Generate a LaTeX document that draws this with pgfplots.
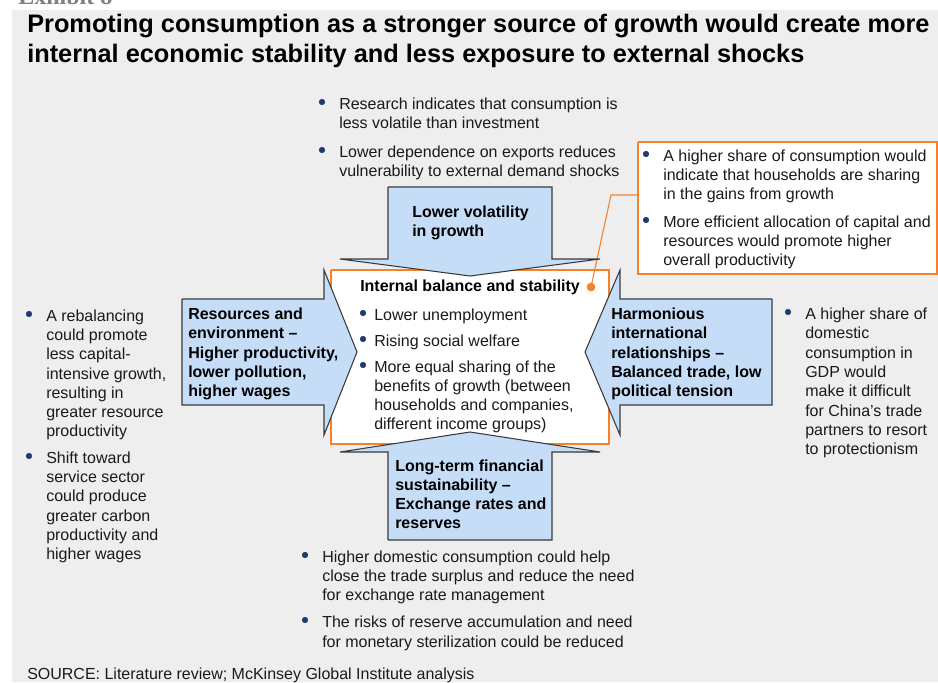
\documentclass[border=0pt]{standalone}
\usepackage{fontspec}
\setmainfont{Liberation Sans}
\newfontfamily\serifx{Liberation Serif}
\usepackage{pgfplots}
\pgfplotsset{compat=1.18}

\definecolor{bg}{HTML}{EEEEEE}
\definecolor{arrowblue}{HTML}{C6DDF7}
\definecolor{arrowline}{HTML}{3A3A3A}
\definecolor{orng}{HTML}{F5822A}
\definecolor{navy}{HTML}{1F3A6E}
\definecolor{txt}{HTML}{1A1A1A}

% one line of text, placed on its baseline (pixel coordinates of the reference)
\newcommand{\tl}[3]{\node[anchor=base west,inner sep=0pt,text=txt] at (axis cs:#1,#2) {#3};}
\newcommand{\bt}[3]{\node[anchor=base west,inner sep=0pt,text=black,font=\bfseries] at (axis cs:#1,#2) {#3};}

\begin{document}
\fontsize{12}{14}\selectfont
\begin{tikzpicture}
\begin{axis}[
    scale only axis,
    width=703.5pt, height=511.5pt,
    xmin=0, xmax=938, ymin=0, ymax=682,
    y dir=reverse,
    hide axis,
    clip=false,
    no markers,
]
% background panel
\addplot[fill=bg, draw=none] coordinates {(12,10) (938,10) (938,682) (12,682) (12,10)};

% partly cut header
\node[anchor=base west,inner sep=0pt,text=gray,font=\serifx\bfseries\fontsize{18}{20}\selectfont] at (axis cs:18,4) {Exhibit 8};

% title
\node[anchor=base west,inner sep=0pt,font=\bfseries\fontsize{19}{22}\selectfont] at (axis cs:27,32) {Promoting consumption as a stronger source of growth would create more};
\node[anchor=base west,inner sep=0pt,font=\bfseries\fontsize{19}{22}\selectfont] at (axis cs:27,62) {internal economic stability and less exposure to external shocks};

% central box and callout box
\addplot[fill=white, draw=orng, line width=0.9pt] coordinates {(331,270) (609,270) (609,444) (331,444) (331,270)};
\addplot[fill=white, draw=orng, line width=0.9pt] coordinates {(638,142) (937,142) (937,274) (638,274) (638,142)};
\addplot[draw=orng, line width=0.8pt] coordinates {(591,287) (611,195) (638,195)};
\addplot[only marks, mark=*, mark size=3pt, color=orng] coordinates {(591,287)};

% four arrows
\addplot[fill=arrowblue, draw=arrowline, line width=0.8pt] coordinates {(388,187) (552,187) (552,259) (600,259) (470,276) (340,259) (388,259) (388,187)};
\addplot[fill=arrowblue, draw=arrowline, line width=0.8pt] coordinates {(388,540) (552,540) (552,452) (600,452) (470,432) (340,452) (388,452) (388,540)};
\addplot[fill=arrowblue, draw=arrowline, line width=0.8pt] coordinates {(182,299) (324,299) (324,270) (357,352) (324,435) (324,405) (182,405) (182,299)};
\addplot[fill=arrowblue, draw=arrowline, line width=0.8pt] coordinates {(772,299) (620,299) (620,270) (585,352) (620,435) (620,405) (772,405) (772,299)};

% bullets
\addplot[only marks, mark=square*, mark size=2.1pt, color=navy] coordinates {
  (322,102) (322,150)
  (646,154) (646,220)
  (29,314) (29,456)
  (363,313) (363,339) (363,365)
  (788,312)
  (305,555) (305,620)
};

% top text
\tl{339}{109}{Research indicates that consumption is}
\tl{339}{128}{less volatile than investment}
\tl{339}{157}{Lower dependence on exports reduces}
\tl{339}{176}{vulnerability to external demand shocks}

% callout text
\tl{663}{161}{A higher share of consumption would}
\tl{663}{180}{indicate that households are sharing}
\tl{663}{199}{in the gains from growth}
\tl{663}{227}{More efficient allocation of capital and}
\tl{663}{246}{resources would promote higher}
\tl{663}{265}{overall productivity}

% top arrow
\bt{412}{217}{Lower volatility}
\bt{412}{236}{in growth}

% central box
\bt{360}{291}{Internal balance and stability}
\tl{374}{320}{Lower unemployment}
\tl{374}{346}{Rising social welfare}
\tl{374}{372}{More equal sharing of the}
\tl{374}{391}{benefits of growth (between}
\tl{374}{410}{households and companies,}
\tl{374}{429}{different income groups)}

% left arrow
\bt{188}{319}{Resources and}
\bt{188}{338}{environment --}
\bt{188}{358}{Higher productivity,}
\bt{188}{377}{lower pollution,}
\bt{188}{396}{higher wages}

% right arrow
\bt{611}{319}{Harmonious}
\bt{611}{338}{international}
\bt{611}{358}{relationships --}
\bt{611}{377}{Balanced trade, low}
\bt{611}{396}{political tension}

% bottom arrow
\bt{395}{471}{Long-term financial}
\bt{395}{490}{sustainability --}
\bt{395}{509}{Exchange rates and}
\bt{395}{528}{reserves}

% left side
\tl{46}{321}{A rebalancing}
\tl{46}{340}{could promote}
\tl{46}{359}{less capital-}
\tl{46}{379}{intensive growth,}
\tl{46}{398}{resulting in}
\tl{46}{417}{greater resource}
\tl{46}{436}{productivity}
\tl{46}{463}{Shift toward}
\tl{46}{482}{service sector}
\tl{46}{501}{could produce}
\tl{46}{521}{greater carbon}
\tl{46}{540}{productivity and}
\tl{46}{559}{higher wages}

% right side
\tl{805}{319}{A higher share of}
\tl{805}{338}{domestic}
\tl{805}{358}{consumption in}
\tl{805}{377}{GDP would}
\tl{805}{396}{make it difficult}
\tl{805}{416}{for China’s trade}
\tl{805}{435}{partners to resort}
\tl{805}{454}{to protectionism}

% bottom text
\tl{322}{562}{Higher domestic consumption could help}
\tl{322}{581}{close the trade surplus and reduce the need}
\tl{322}{600}{for exchange rate management}
\tl{322}{627}{The risks of reserve accumulation and need}
\tl{322}{647}{for monetary sterilization could be reduced}

% source
\node[anchor=base west,inner sep=0pt,text=txt,font=\fontsize{12}{14}\selectfont] at (axis cs:27,679) {SOURCE: Literature review; McKinsey Global Institute analysis};
\end{axis}
\pgfresetboundingbox
\path (0,0) rectangle (703.5pt,511.5pt);
\end{tikzpicture}
\end{document}
